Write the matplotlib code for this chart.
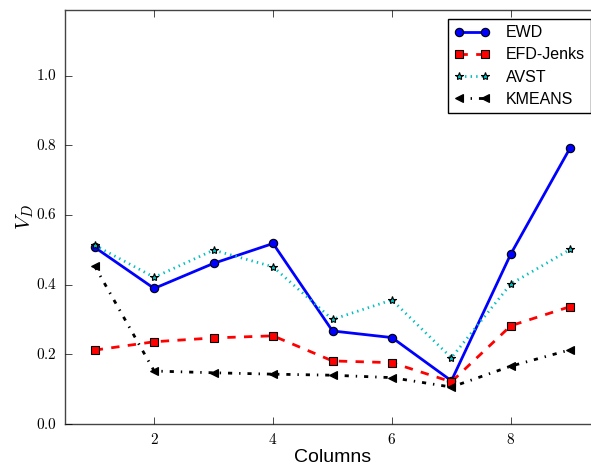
import numpy as np
import matplotlib
matplotlib.use("Agg")
import matplotlib.pyplot as plt
from matplotlib.ticker import FuncFormatter

columns = [1, 2, 3, 4, 5, 6, 7, 8, 9]
ewd = [0.507, 0.389, 0.461, 0.518, 0.267, 0.248, 0.124, 0.488, 0.793]
efd_jenks = [0.212, 0.236, 0.247, 0.253, 0.181, 0.176, 0.121, 0.282, 0.337]
avst = [0.513, 0.421, 0.499, 0.451, 0.300, 0.356, 0.190, 0.402, 0.501]
kmeans = [0.453, 0.152, 0.147, 0.143, 0.140, 0.133, 0.106, 0.166, 0.213]

plt.style.use("classic")
plt.rcParams["mathtext.fontset"] = "cm"
plt.rcParams["font.family"] = ["Liberation Sans", "DejaVu Sans"]

fig = plt.figure(figsize=(5.91, 4.65), dpi=100, facecolor="white")
ax = fig.add_axes([65 / 591, 41 / 465, 535 / 591, 414 / 465])

ax.plot(columns, ewd, "b-o", lw=2, ms=6, mew=0.8, mec="k", label="EWD")
ax.plot(columns, efd_jenks, "r--s", lw=2, ms=6, mew=0.8, mec="k", label="EFD-Jenks")
ax.plot(columns, avst, "c:*", lw=2, ms=6, mew=0.8, mec="k", label="AVST")
ax.plot(columns, kmeans, "k-.<", lw=2, ms=6, mew=0.8, mec="k", label="KMEANS")

ax.set_xlim(0.5, 9.5)
ax.set_ylim(0, 1.188)
ax.set_xticks([2, 4, 6, 8])
ax.set_yticks([0.0, 0.2, 0.4, 0.6, 0.8, 1.0])
ax.xaxis.set_major_formatter(FuncFormatter(lambda v, p: r"$%d$" % v))
ax.yaxis.set_major_formatter(FuncFormatter(lambda v, p: r"$%.1f$" % v))
ax.tick_params(labelsize=11, direction="in", length=5, pad=6)
for s in ax.spines.values():
    s.set_color("#444444")

ax.set_xlabel("Columns", fontsize=14, labelpad=1)
ax.set_ylabel(r"$V_D$", fontsize=15, labelpad=0)

leg = ax.legend(loc="upper right", fontsize=11.5, numpoints=2, handlelength=2.2,
                handletextpad=1.0, labelspacing=0.45, borderaxespad=0.55,
                fancybox=False)
leg.get_frame().set_edgecolor("k")

fig.savefig("out.png", dpi=100, facecolor="white")
